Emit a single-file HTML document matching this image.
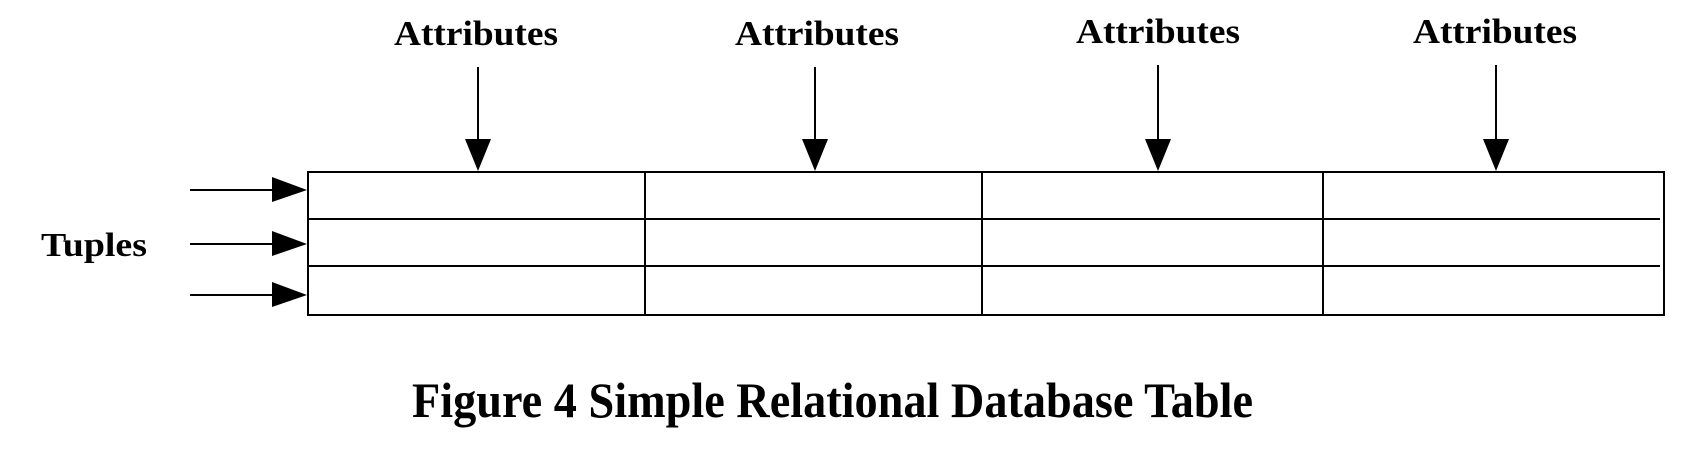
<!DOCTYPE html>
<html><head><style>html,body{margin:0;padding:0;background:#fff}svg{display:block}</style></head>
<body>
<svg width="1706" height="466" viewBox="0 0 1706 466" xmlns="http://www.w3.org/2000/svg">
<g font-family="Liberation Serif, serif" font-weight="bold" fill="#000">
<text x="394" y="45" font-size="35" textLength="164" lengthAdjust="spacingAndGlyphs">Attributes</text>
<text x="735" y="45" font-size="35" textLength="164" lengthAdjust="spacingAndGlyphs">Attributes</text>
<text x="1076" y="43" font-size="35" textLength="164" lengthAdjust="spacingAndGlyphs">Attributes</text>
<text x="1413" y="43" font-size="35" textLength="164" lengthAdjust="spacingAndGlyphs">Attributes</text>
<text x="41" y="256" font-size="34" textLength="106" lengthAdjust="spacingAndGlyphs">Tuples</text>
<text x="412" y="417" font-size="50" textLength="841" lengthAdjust="spacingAndGlyphs">Figure 4 Simple Relational Database Table</text>
</g>
<g stroke="#000" stroke-width="2" fill="none">
<rect x="308" y="172" width="1356" height="143"/>
<line x1="308" y1="219" x2="1660" y2="219"/>
<line x1="308" y1="266" x2="1660" y2="266"/>
<line x1="645" y1="172" x2="645" y2="315"/>
<line x1="982" y1="172" x2="982" y2="315"/>
<line x1="1323" y1="172" x2="1323" y2="315"/>
<line x1="478" y1="67" x2="478" y2="145"/>
<line x1="815" y1="67" x2="815" y2="145"/>
<line x1="1158" y1="65" x2="1158" y2="145"/>
<line x1="1496" y1="65" x2="1496" y2="145"/>
<line x1="190" y1="190" x2="275" y2="190"/>
<line x1="190" y1="244" x2="275" y2="244"/>
<line x1="190" y1="295" x2="275" y2="295"/>
</g>
<g fill="#000">
<polygon points="465,139 491,139 478,171"/>
<polygon points="802,139 828,139 815,171"/>
<polygon points="1145,139 1171,139 1158,171"/>
<polygon points="1483,139 1509,139 1496,171"/>
<polygon points="272,177 272,202 307,190"/>
<polygon points="272,231 272,256 307,244"/>
<polygon points="272,282 272,307 307,295"/>
</g>
</svg>
</body></html>
